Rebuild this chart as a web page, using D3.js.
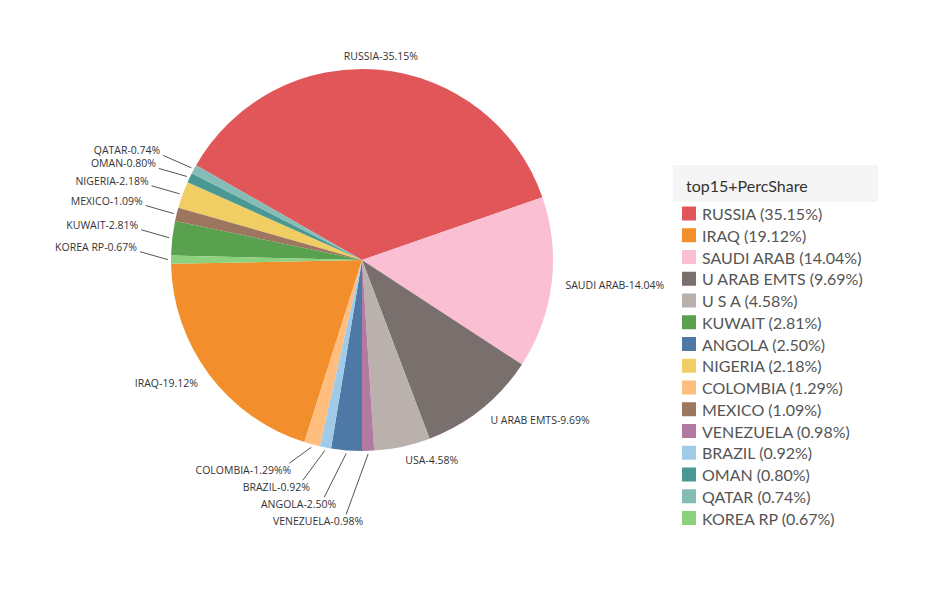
<!DOCTYPE html>
<html lang="en">
  <head>
    <title>top15 perc share pie</title>
    <meta charset="utf-8">
    <style>
      body { margin: 0; background: #fff; }
      .slice-label { font-family: "Open Sans", sans-serif; font-size: 10.5px; fill: #333; }
      .leader { stroke: #555; stroke-width: 1; fill: none; }
      .legend-title { font-family: Lato, sans-serif; font-size: 16px; fill: #333; }
      .legend-item { font-family: Lato, sans-serif; font-size: 16px; fill: #555; }
    </style>
    <script src="https://d3js.org/d3.v7.min.js"></script>
  </head>
  <body>
    <script>

    // legend order (descending share)
    var countries = ["RUSSIA", "IRAQ", "SAUDI ARAB", "U ARAB EMTS", "U S A", "KUWAIT", "ANGOLA", "NIGERIA",
                     "COLOMBIA", "MEXICO", "VENEZUELA", "BRAZIL", "OMAN", "QATAR", "KOREA RP"];
    var shares = [35.15, 19.12, 14.04, 9.69, 4.58, 2.81, 2.50, 2.18, 1.29, 1.09, 0.98, 0.92, 0.80, 0.74, 0.67];
    var sliceLabels = ["RUSSIA-35.15%", "IRAQ-19.12%", "SAUDI ARAB-14.04%", "U ARAB EMTS-9.69%", "USA-4.58%",
                       "KUWAIT-2.81%", "ANGOLA-2.50%", "NIGERIA-2.18%", "COLOMBIA-1.29%%", "MEXICO-1.09%",
                       "VENEZUELA-0.98%", "BRAZIL-0.92%", "OMAN-0.80%", "QATAR-0.74%", "KOREA RP-0.67%"];
    var palette = ["#e15759", "#f28e2b", "#fabfd2", "#79706e", "#bab0ac", "#59a14f", "#4e79a7", "#f1ce63",
                   "#ffbe7d", "#9d7660", "#b07aa1", "#a0cbe8", "#499894", "#86bcb6", "#8cd17d"];

    var w = 941, h = 604;
    var cx = 362, cy = 260, R = 191;

    var dataset = countries.map(function(c, i) {
      return {name: c, share: shares[i], label: sliceLabels[i]};
    });

    var color = d3.scaleOrdinal().domain(countries).range(palette);

    var svg = d3.select("body")
                .append("svg")
                .attr("width", w)
                .attr("height", h);

    // tableau draws slices alphabetically, clockwise from 6 o'clock
    var pie = d3.pie()
                .value(function(d) { return d.share; })
                .sort(function(a, b) { return d3.ascending(a.name, b.name); })
                .startAngle(Math.PI)
                .endAngle(3 * Math.PI);

    var arc = d3.arc().innerRadius(0).outerRadius(R);
    var arcs = pie(dataset);

    var g = svg.append("g").attr("transform", "translate(" + cx + "," + cy + ")");

    g.selectAll("path")
     .data(arcs)
     .enter()
     .append("path")
     .attr("d", arc)
     .attr("fill", function(d) { return color(d.data.name); });

    // label placement
    function rim(a, r) { return [r * Math.sin(a), -r * Math.cos(a)]; }

    var big = [], left = [], bottom = [];
    arcs.forEach(function(d) {
      var mid = (d.startAngle + d.endAngle) / 2;
      var o = {d: d, mid: mid, end: rim(mid, R + 3)};
      if (d.data.share >= 3) big.push(o);
      else if (Math.sin(mid) > -0.5) bottom.push(o);
      else left.push(o);
    });

    // left stack: pushed upward
    left.forEach(function(o) { o.sx = o.end[0] - 28; o.sy = o.end[1] - 8; });
    left.sort(function(a, b) { return b.sy - a.sy; });
    for (var i = 1; i < left.length; i++) {
      if (left[i].sy > left[i - 1].sy - 13) left[i].sy = left[i - 1].sy - 13;
    }

    // bottom stack: pushed downward
    bottom.forEach(function(o) { o.sx = o.end[0] - 22; o.sy = o.end[1] + 16; });
    bottom.sort(function(a, b) { return a.sx - b.sx; });
    for (var j = 1; j < bottom.length; j++) {
      if (bottom[j].sy < bottom[j - 1].sy + 17) bottom[j].sy = bottom[j - 1].sy + 17;
    }

    var leaders = left.concat(bottom);
    g.selectAll("line.leader")
     .data(leaders)
     .enter()
     .append("line")
     .attr("class", "leader")
     .attr("x1", function(o) { return o.sx; })
     .attr("y1", function(o) { return o.sy; })
     .attr("x2", function(o) { return o.end[0]; })
     .attr("y2", function(o) { return o.end[1]; });

    g.selectAll("text.left")
     .data(left)
     .enter()
     .append("text")
     .attr("class", "slice-label")
     .attr("text-anchor", "end")
     .attr("dominant-baseline", "central")
     .attr("x", function(o) { return o.sx - 3; })
     .attr("y", function(o) { return o.sy - 5; })
     .text(function(o) { return o.d.data.label; });

    g.selectAll("text.bottom")
     .data(bottom)
     .enter()
     .append("text")
     .attr("class", "slice-label")
     .attr("text-anchor", "end")
     .attr("dominant-baseline", "central")
     .attr("x", function(o, k) { return o.sx + 2 + k * 5; })
     .attr("y", function(o) { return o.sy + 7; })
     .text(function(o) { return o.d.data.label; });

    g.selectAll("text.big")
     .data(big)
     .enter()
     .append("text")
     .attr("class", "slice-label")
     .attr("text-anchor", function(o) {
        var s = Math.sin(o.mid);
        return Math.abs(s) < 0.15 ? "middle" : (s > 0 ? "start" : "end");
     })
     .attr("dominant-baseline", "central")
     .attr("x", function(o) { return rim(o.mid, R + 14)[0]; })
     .attr("y", function(o) { return rim(o.mid, R + 14)[1]; })
     .text(function(o) { return o.d.data.label; });

    // legend
    var legend = svg.append("g");

    legend.append("rect")
          .attr("x", 673)
          .attr("y", 165)
          .attr("width", 205)
          .attr("height", 37)
          .attr("fill", "#f5f5f5");

    legend.append("text")
          .attr("class", "legend-title")
          .attr("x", 686)
          .attr("y", 185)
          .attr("dominant-baseline", "central")
          .text("top15+PercShare");

    var yL = d3.scalePoint().domain(countries).range([213.5, 518]);

    var items = legend.selectAll("g.item")
                      .data(dataset)
                      .enter()
                      .append("g")
                      .attr("transform", function(d) { return "translate(0," + yL(d.name) + ")"; });

    items.append("rect")
         .attr("x", 682)
         .attr("y", -7)
         .attr("width", 14)
         .attr("height", 14)
         .attr("fill", function(d) { return color(d.name); });

    items.append("text")
         .attr("class", "legend-item")
         .attr("x", 702)
         .attr("dominant-baseline", "central")
         .text(function(d) { return d.name + " (" + d3.format(".2f")(d.share) + "%)"; });

    </script>
  </body>
</html>
